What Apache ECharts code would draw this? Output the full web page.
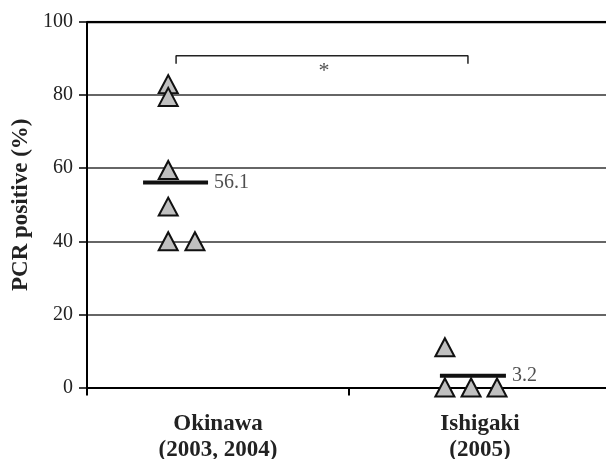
<!DOCTYPE html>
<html>
<head>
<meta charset="utf-8">
<script src="https://cdn.jsdelivr.net/npm/echarts@6/dist/echarts.min.js"></script>
<style>
  html, body { margin: 0; padding: 0; background: #fff; }
  #chart { width: 606px; height: 459px; }
</style>
</head>
<body>
<div id="chart"></div>
<script>
const categories = ['Okinawa\n(2003, 2004)', 'Ishigaki\n(2005)']
const okinawaValues = [83, 79.5, 59.5, 49.5, 40, 40]
const ishigakiValues = [11, 0, 0, 0]
const means = [56.1, 3.2]
const yTicks = [0, 20, 40, 60, 80, 100]
const significance = '*'

// horizontal jitter of each triangle inside its category (in category units)
const okinawaJitter = [-0.19, -0.19, -0.19, -0.19, -0.19, -0.088]
const ishigakiJitter = [-0.134, -0.134, -0.034, 0.065]
const meanSpan = [[-0.286, -0.038], [-0.153, 0.099]]

const serif = '"Liberation Serif", "DejaVu Serif", serif'
const chart = echarts.init(document.getElementById('chart'))

const pts = []
okinawaValues.forEach((v, i) => pts.push([0.5 + okinawaJitter[i], v]))
ishigakiValues.forEach((v, i) => pts.push([1.5 + ishigakiJitter[i], v]))

const meanLine = []
means.forEach((m, i) => {
  const c = i + 0.5
  meanLine.push([c + meanSpan[i][0], m], [c + meanSpan[i][1], m], '-')
})
const meanLabels = means.map((m, i) => [i + 0.5 + meanSpan[i][1], m])

const bracket = [[0.34, 88.6], [0.34, 90.8], [1.454, 90.8], [1.454, 88.6]]

const option = {
  animation: false,
  grid: { left: 87, right: -5, top: 22, bottom: 71.5, outerBoundsMode: 'none', containLabel: false },
  xAxis: [
    {
      type: 'category',
      data: categories,
      axisLine: { lineStyle: { color: '#000', width: 2 } },
      axisTick: { show: true, length: 8, lineStyle: { color: '#000', width: 2 } },
      axisLabel: {
        margin: 24,
        fontFamily: serif, fontWeight: 'bold', fontSize: 23,
        color: '#222', lineHeight: 26
      }
    },
    { type: 'value', min: 0, max: 2, show: false }
  ],
  yAxis: {
    type: 'value',
    min: 0, max: 100, interval: 20,
    name: 'PCR positive (%)',
    nameLocation: 'middle',
    nameGap: 54,
    nameTextStyle: { fontFamily: serif, fontWeight: 'bold', fontSize: 23, color: '#222' },
    axisLine: { show: true, lineStyle: { color: '#000', width: 2 } },
    axisTick: { show: true, length: 8, lineStyle: { color: '#000', width: 1.5 } },
    axisLabel: { margin: 14, fontFamily: serif, fontSize: 20, color: '#222' },
    splitLine: { lineStyle: { color: '#333', width: 1.5 } }
  },
  series: [
    {
      type: 'line', xAxisIndex: 1, data: [[0, 100], [2, 100]],
      symbol: 'none', lineStyle: { color: '#000', width: 2.5 }, silent: true
    },
    {
      type: 'line', xAxisIndex: 1, data: bracket,
      symbol: 'none', lineStyle: { color: '#222', width: 1.5 }
    },
    {
      type: 'scatter', xAxisIndex: 1, data: [[0.905, 86.6]],
      symbolSize: 0,
      label: { show: true, formatter: significance, position: 'inside',
        fontFamily: serif, fontSize: 22, color: '#222' }
    },
    {
      type: 'line', xAxisIndex: 1, data: meanLine,
      symbol: 'none', connectNulls: false,
      lineStyle: { color: '#111', width: 4 }, z: 3
    },
    {
      type: 'scatter', xAxisIndex: 1, data: meanLabels,
      symbolSize: 0,
      label: {
        show: true, position: 'right', distance: 6,
        formatter: p => String(p.value[1]),
        fontFamily: serif, fontSize: 20, color: '#222'
      }
    },
    {
      type: 'scatter', xAxisIndex: 1, data: pts,
      symbol: 'triangle', symbolSize: [19, 18],
      itemStyle: { color: '#c0c0c0', borderColor: '#111', borderWidth: 2, opacity: 1 },
      z: 5
    }
  ]
}
chart.setOption(option)
</script>
</body>
</html>
